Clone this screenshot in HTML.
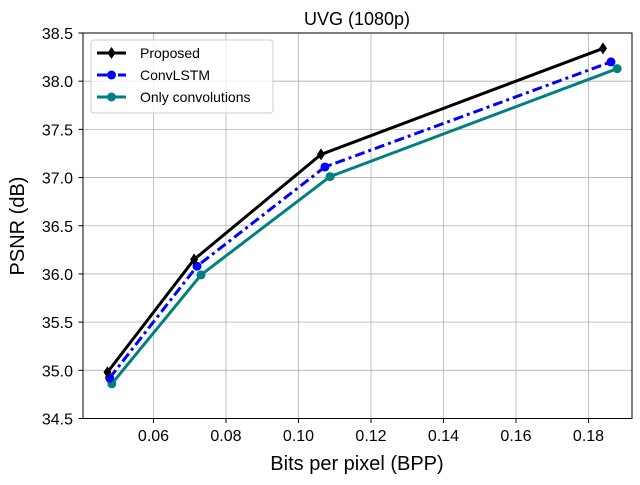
<!DOCTYPE html>
<html><head><meta charset="utf-8"><style>
body{margin:0;background:#fff;}
svg{font-family:"Liberation Sans",Arial,sans-serif;}
</style></head><body>
<svg id="chart" width="640" height="480">
<rect width="640" height="480" fill="#fff"/>
<g id="grid"></g>
<g id="ticks"></g>
<rect x="83" y="33" width="549" height="385.5" fill="none" stroke="#000" stroke-width="1"/>
<g id="series"></g>
<text x="357" y="25" font-size="18" text-anchor="middle">UVG (1080p)</text>
<text x="357" y="470" font-size="20" text-anchor="middle">Bits per pixel (BPP)</text>
<text transform="translate(24,226) rotate(-90)" font-size="20" text-anchor="middle">PSNR (dB)</text>
<g id="legend">
<rect x="91" y="40" width="182" height="73" rx="3" fill="#fff" fill-opacity="0.8" stroke="#ccc"/>
</g>
</svg>
<script>
const seriesNames=["Proposed","ConvLSTM","Only convolutions"];
const proposedX=[0.0473,0.0712,0.1062,0.1840];
const proposedY=[34.98,36.15,37.24,38.34];
const convlstmX=[0.0479,0.0720,0.1073,0.1862];
const convlstmY=[34.92,36.08,37.11,38.20];
const onlyConvX=[0.0485,0.0731,0.1087,0.1879];
const onlyConvY=[34.86,35.99,37.01,38.13];
const xTicks=[0.06,0.08,0.10,0.12,0.14,0.16,0.18];
const yTicks=[34.5,35.0,35.5,36.0,36.5,37.0,37.5,38.0,38.5];
const NS="http://www.w3.org/2000/svg";
const sx=v=>153.5+(v-0.06)/0.02*72.5;
const sy=v=>418.5-(v-34.5)*96.375;
function mk(tag,attrs,parent){const e=document.createElementNS(NS,tag);for(const k in attrs)e.setAttribute(k,attrs[k]);parent.appendChild(e);return e;}
const grid=document.getElementById('grid'),ticks=document.getElementById('ticks');
xTicks.forEach(t=>{const x=sx(t);
 const g=mk('line',{x1:x,x2:x,y1:33,y2:418.5,stroke:'#b0b0b0','stroke-width':0.8},grid);
 
 
 mk('line',{x1:x,x2:x,y1:418.5,y2:423,stroke:'#000'},ticks);
 const l=mk('text',{x:x,y:441,'font-size':16,'text-anchor':'middle'},ticks);l.textContent=t.toFixed(2);
 
 });
yTicks.forEach(t=>{const y=sy(t);
 const g=mk('line',{x1:83,x2:632,y1:y,y2:y,stroke:'#b0b0b0','stroke-width':0.8},grid);
 
 
 mk('line',{x1:78.5,x2:83,y1:y,y2:y,stroke:'#000'},ticks);
 const l=mk('text',{x:73,y:y+6,'font-size':16,'text-anchor':'end'},ticks);l.textContent=t.toFixed(1);
 
 });
const ser=document.getElementById('series');
const defs=[
 {xs:onlyConvX,ys:onlyConvY,c:'#008080',dash:'',m:'circle',name:'only-convolutions'},
 {xs:convlstmX,ys:convlstmY,c:'#0000ff',dash:'10,4,3,4',m:'circle',name:'convlstm'},
 {xs:proposedX,ys:proposedY,c:'#000',dash:'',m:'diamond',name:'proposed'}];
function marker(m,x,y,c,p){
 if(m==='circle')return mk('circle',{cx:x,cy:y,r:4.5,fill:c},p);
 return mk('polygon',{points:`${x},${y-6} ${x+4},${y} ${x},${y+6} ${x-4},${y}`,fill:c},p);}
defs.forEach(d=>{
 const pts=d.xs.map((v,i)=>sx(v)+','+sy(d.ys[i])).join(' ');
 const pl=mk('polyline',{points:pts,fill:'none',stroke:d.c,'stroke-width':3,'stroke-dasharray':d.dash},ser);
 
 
 d.xs.forEach((v,i)=>{const mm=marker(d.m,sx(v),sy(d.ys[i]),d.c,ser);
  
  });
});
const leg=document.getElementById('legend');
const legDefs=[{c:'#000',dash:'',m:'diamond'},{c:'#0000ff',dash:'10,4,3,4',m:'circle'},{c:'#008080',dash:'',m:'circle'}];
legDefs.forEach((d,i)=>{const y=53+i*22;
 mk('line',{x1:97,x2:126,y1:y,y2:y,stroke:d.c,'stroke-width':3,'stroke-dasharray':d.dash},leg);
 marker(d.m,111.5,y,d.c,leg);
 const t=mk('text',{x:140,y:y+5,'font-size':14},leg);t.textContent=seriesNames[i];
 
 });
</script>
</body></html>
